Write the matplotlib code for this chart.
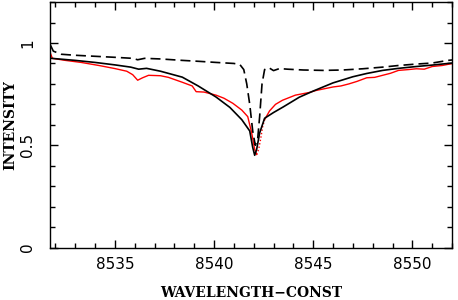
import matplotlib
matplotlib.use("Agg")
import matplotlib.pyplot as plt
from matplotlib.ticker import MultipleLocator

# model profile (solid black)
wl_model = [8531.8, 8533.0, 8534.0, 8535.0, 8535.8, 8536.2, 8536.6, 8537.3, 8538.4, 8539.2,
            8540.1, 8540.8, 8541.4, 8541.8, 8541.95, 8542.05, 8542.15, 8542.3, 8542.55, 8543.0,
            8543.5, 8544.3, 8545.0, 8546.0, 8547.0, 8547.7, 8548.5, 8549.3, 8550.2, 8551.0, 8552.3]
int_model = [0.925, 0.915, 0.905, 0.893, 0.882, 0.872, 0.876, 0.862, 0.833, 0.79,
             0.736, 0.685, 0.625, 0.57, 0.49, 0.451, 0.48, 0.56, 0.632, 0.66,
             0.688, 0.735, 0.765, 0.805, 0.835, 0.851, 0.866, 0.876, 0.885, 0.892, 0.905]

# second profile (dashed black)
wl_dash = [8531.75, 8531.9, 8532.3, 8533.0, 8534.0, 8535.0, 8535.9, 8536.15, 8536.5, 8537.3,
           8538.4, 8539.3, 8540.1, 8541.0, 8541.3, 8541.5, 8541.65, 8541.8, 8541.95, 8542.08,
           8542.2, 8542.3, 8542.42, 8542.55, 8542.75, 8543.0, 8543.3, 8543.7, 8544.5, 8545.5,
           8546.5, 8547.5, 8548.5, 8549.3, 8550.2, 8551.0, 8551.8, 8552.3]
int_dash = [0.99, 0.96, 0.945, 0.94, 0.935, 0.93, 0.925, 0.918, 0.925, 0.922,
            0.915, 0.91, 0.905, 0.9, 0.895, 0.87, 0.8, 0.7, 0.57, 0.5,
            0.53, 0.64, 0.8, 0.87, 0.88, 0.865, 0.875, 0.872, 0.868, 0.866,
            0.868, 0.874, 0.882, 0.89, 0.897, 0.902, 0.915, 0.92]

# observed spectrum (red): blue wing + core, dotted red core, red wing
wl_obs_blue = [8531.75, 8531.85, 8532.5, 8533.3, 8534.2, 8535.0, 8535.6, 8535.9, 8536.15, 8536.4,
               8536.7, 8537.3, 8537.7, 8538.4, 8538.9, 8539.1, 8539.5, 8540.1, 8540.5, 8540.95,
               8541.4, 8541.7, 8541.9, 8542.05, 8542.15]
int_obs_blue = [0.95, 0.925, 0.915, 0.905, 0.89, 0.875, 0.862, 0.845, 0.818, 0.83,
                0.842, 0.84, 0.832, 0.808, 0.79, 0.762, 0.76, 0.745, 0.73, 0.705,
                0.672, 0.64, 0.56, 0.48, 0.455]
wl_obs_core = [8542.15, 8542.25, 8542.35, 8542.45, 8542.55]
int_obs_core = [0.455, 0.48, 0.53, 0.59, 0.625]
wl_obs_red = [8542.55, 8542.8, 8543.1, 8543.45, 8544.1, 8544.8, 8545.15, 8545.5, 8546.0, 8546.4,
              8546.8, 8547.2, 8547.7, 8548.1, 8548.5, 8548.9, 8549.3, 8549.8, 8550.2, 8550.6,
              8551.0, 8551.5, 8552.3]
int_obs_red = [0.625, 0.668, 0.7, 0.72, 0.745, 0.758, 0.768, 0.775, 0.785, 0.79,
               0.8, 0.812, 0.83, 0.832, 0.842, 0.852, 0.866, 0.87, 0.874, 0.872,
               0.885, 0.89, 0.905]

fig = plt.figure(figsize=(4.58, 3.0), dpi=100)
ax = fig.add_axes([0.110, 0.175, 0.877, 0.818])

ax.plot(wl_obs_blue, int_obs_blue, color="red", linewidth=1.0)
ax.plot(wl_obs_core, int_obs_core, color="red", linewidth=1.0, linestyle=(0, (1, 1.5)))
ax.plot(wl_obs_red, int_obs_red, color="red", linewidth=1.0)
ax.plot(wl_model, int_model, color="black", linewidth=1.2)
ax.plot(wl_dash, int_dash, color="black", linewidth=1.2, linestyle=(0, (6, 3)))

ax.set_xlim(8531.75, 8552.0)
ax.set_ylim(0, 1.2)
ax.xaxis.set_major_locator(MultipleLocator(5))
ax.xaxis.set_minor_locator(MultipleLocator(1))
ax.yaxis.set_minor_locator(MultipleLocator(0.1))
ax.set_yticks([0, 0.5, 1])
ax.set_yticklabels(["0", "0.5", "1"], rotation=90, va="center")

ax.tick_params(which="both", direction="in", top=True, right=True, width=1.0)
ax.tick_params(which="major", length=6, labelsize=11)
ax.tick_params(which="minor", length=3.5)
ax.tick_params(axis="x", which="major", pad=7)
ax.tick_params(axis="y", which="major", pad=11)
for lab in ax.get_xticklabels() + ax.get_yticklabels():
    lab.set_family("DejaVu Sans")
for s in ax.spines.values():
    s.set_linewidth(1.0)

ax.set_xlabel("WAVELENGTH\u2212CONST", fontsize=10, fontweight="bold",
              family="DejaVu Serif", va="center")
ax.set_ylabel("INTENSITY", fontsize=10, fontweight="bold",
              family="DejaVu Serif", va="center")
ax.xaxis.set_label_coords(0.5, -0.185)
ax.yaxis.set_label_coords(-0.100, 0.5)

fig.savefig("out.png", dpi=100)
